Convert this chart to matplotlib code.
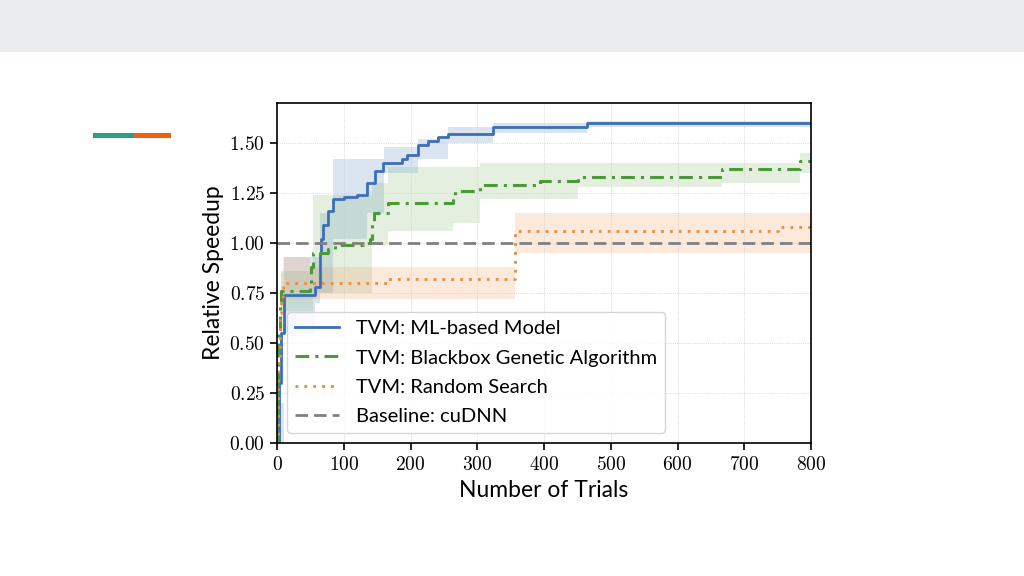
import numpy as np
import matplotlib
matplotlib.use("Agg")
from matplotlib import pyplot as plt
from matplotlib.ticker import FuncFormatter
from matplotlib.patches import Rectangle

plt.rcParams['mathtext.fontset'] = 'cm'
plt.rcParams['font.family'] = ['Lato', 'DejaVu Sans']

# TVM: ML-based Model
ml_x = [0, 3, 6, 10, 57, 64, 66, 69, 77, 84, 100, 120, 135, 147, 159, 187, 195, 211, 226, 241, 256, 324, 464, 800]
ml_y = [0, 0.30, 0.55, 0.74, 0.78, 0.95, 1.02, 1.09, 1.16, 1.22, 1.23, 1.24, 1.30, 1.36, 1.40, 1.42, 1.44, 1.49, 1.51, 1.53, 1.545, 1.58, 1.60, 1.60]
ml_band_x = [0, 10, 57, 64, 84, 135, 160, 211, 256, 324, 464, 800]
ml_lo = [0, 0.55, 0.70, 0.75, 1.02, 1.15, 1.35, 1.42, 1.50, 1.55, 1.58, 1.60]
ml_hi = [0.2, 0.93, 0.93, 1.15, 1.42, 1.42, 1.48, 1.52, 1.58, 1.60, 1.61, 1.61]

# TVM: Blackbox Genetic Algorithm
ga_x = [0, 2, 4, 6, 49, 51, 54, 77, 87, 129, 139, 142, 145, 166, 264, 266, 304, 394, 451, 667, 783, 800]
ga_y = [0, 0.55, 0.70, 0.76, 0.80, 0.88, 0.95, 0.97, 0.99, 1.00, 1.02, 1.10, 1.15, 1.20, 1.23, 1.26, 1.29, 1.31, 1.33, 1.37, 1.41, 1.41]
ga_band_x = [0, 6, 54, 142, 166, 264, 304, 451, 667, 783, 800]
ga_lo = [0, 0.66, 0.75, 0.99, 1.06, 1.10, 1.22, 1.28, 1.30, 1.35, 1.35]
ga_hi = [0.3, 0.86, 1.24, 1.30, 1.38, 1.38, 1.40, 1.40, 1.40, 1.45, 1.45]

# TVM: Random Search
rs_x = [0, 2, 4, 6, 9, 166, 357, 751, 800]
rs_y = [0, 0.40, 0.65, 0.72, 0.80, 0.82, 1.06, 1.08, 1.08]
rs_band_x = [0, 6, 9, 50, 357, 800]
rs_lo = [0, 0.55, 0.72, 0.72, 0.95, 0.95]
rs_hi = [0.2, 0.85, 0.93, 0.88, 1.15, 1.15]

baseline = 1.0

blue = '#3b6fb6'
green = '#4a9a35'
orange = '#ee8a3a'
gray = '#808080'

fig = plt.figure(figsize=(10.24, 5.76), dpi=100)
fig.patch.set_facecolor('white')

# slide decorations
fig.patches.append(Rectangle((0, 1 - 52/576), 1, 52/576, transform=fig.transFigure,
                             facecolor='#e9edee', edgecolor='none', zorder=0))
fig.patches.append(Rectangle((93/1024, 1 - 138/576), 41/1024, 5/576, transform=fig.transFigure,
                             facecolor='#26a08a', edgecolor='none'))
fig.patches.append(Rectangle((134/1024, 1 - 138/576), 37/1024, 5/576, transform=fig.transFigure,
                             facecolor='#f0600f', edgecolor='none'))

ax = fig.add_axes([277/1024, 1 - 443/576, (811 - 277)/1024, (443 - 103)/576])

ax.fill_between(ml_band_x, ml_lo, ml_hi, step='post', color=blue, alpha=0.18, lw=0)
ax.fill_between(ga_band_x, ga_lo, ga_hi, step='post', color=green, alpha=0.15, lw=0)
ax.fill_between(rs_band_x, rs_lo, rs_hi, step='post', color=orange, alpha=0.18, lw=0)

ax.plot(ml_x, ml_y, drawstyle='steps-post', color=blue, lw=2, label='TVM: ML-based Model')
ax.plot(ga_x, ga_y, drawstyle='steps-post', color=green, lw=2.2, ls=(0, (4.5, 2, 1, 2)),
        label='TVM: Blackbox Genetic Algorithm')
ax.plot(rs_x, rs_y, drawstyle='steps-post', color=orange, lw=2, ls=(0, (1, 2.2)), label='TVM: Random Search')
ax.axhline(baseline, color=gray, lw=2, ls=(0, (4.5, 2.2)), label='Baseline: cuDNN')

ax.set_xlim(0, 800)
ax.set_ylim(0, 1.7)
ax.set_xticks(np.arange(0, 801, 100))
ax.set_yticks(np.arange(0, 1.51, 0.25))
ax.xaxis.set_major_formatter(FuncFormatter(lambda v, p: r'$%d$' % v))
ax.yaxis.set_major_formatter(FuncFormatter(lambda v, p: r'$%.2f$' % v))
ax.tick_params(labelsize=14, direction='out', length=5, width=1.2)
ax.grid(True, color='#cccccc', lw=0.6, ls=':')
for s in ax.spines.values():
    s.set_linewidth(1.2)

ax.set_xlabel('Number of Trials', fontsize=16.5, labelpad=5)
ax.set_ylabel('Relative Speedup', fontsize=16.5)

ax.legend(loc='lower left', fontsize=14.5, handlelength=2.2, labelspacing=0.6, framealpha=0.8)

fig.savefig('out.png', dpi=100)
